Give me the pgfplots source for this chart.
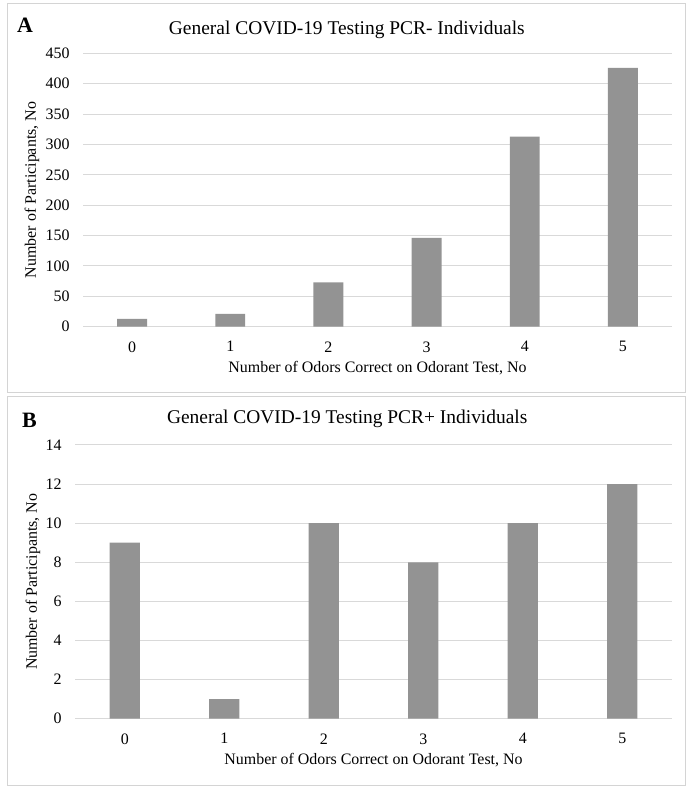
\documentclass[border=0pt]{standalone}
\usepackage{pgfplots}
\pgfplotsset{compat=1.18}
\usepackage{fontspec}
\setmainfont{Liberation Serif}
\definecolor{barc}{HTML}{939393}
\definecolor{gridc}{HTML}{D9D9D9}
\definecolor{boxc}{HTML}{D4D4D4}
\pgfplotsset{
  panel/.style={
    scale only axis,
    xmin=-0.5, xmax=5.5,
    ybar, bar width=0.305,
    xtick={0,1,2,3,4,5},
    axis line style={draw=none},
    tick style={draw=none},
    ymajorgrids,
    major grid style={gridc, line width=1bp},
    /pgf/number format/assume math mode=true,
    tick label style={font=\fontsize{16}{18}\selectfont},
    yticklabel style={xshift=-10bp},
    xticklabel style={yshift=-7bp},
    label style={font=\fontsize{16}{18}\selectfont},
    title style={font=\fontsize{19.5}{22}\selectfont},
    xlabel={Number of Odors Correct on Odorant Test, No},
    ylabel={Number of Participants, No},
    clip=false,
  }
}
\begin{document}
\begin{tikzpicture}
\draw[boxc, line width=1bp] (7bp,400.3bp) rectangle (685bp,789bp);
\draw[boxc, line width=1bp] (7bp,7bp) rectangle (685bp,396.3bp);
\begin{axis}[panel,
  at={(83bp,466.3bp)}, anchor=south west, width=589bp, height=273.4bp,
  ymin=0, ymax=450, ytick={0,50,...,450},
  title={General COVID-19 Testing PCR- Individuals},
  title style={at={(axis description cs:0.448,1.063)}, anchor=center},
  xlabel style={at={(axis description cs:0.5,-0.151)}, anchor=center},
  ylabel style={at={(axis description cs:-0.0866,0.5)}, anchor=center},
]
\addplot[fill=barc, draw=none] coordinates {(0,13) (1,21) (2,73) (3,146) (4,313) (5,426)};
\end{axis}
\begin{axis}[panel,
  at={(75bp,74.3bp)}, anchor=south west, width=597bp, height=273.7bp,
  ymin=0, ymax=14, ytick={0,2,...,14},
  title={General COVID-19 Testing PCR+ Individuals},
  title style={at={(axis description cs:0.456,1.073)}, anchor=center},
  xlabel style={at={(axis description cs:0.5,-0.151)}, anchor=center},
  ylabel style={at={(axis description cs:-0.0704,0.5)}, anchor=center},
]
\addplot[fill=barc, draw=none] coordinates {(0,9) (1,1) (2,10) (3,8) (4,10) (5,12)};
\end{axis}
\node[font=\fontsize{22}{24}\selectfont\bfseries] at (25bp,768bp) {A};
\node[font=\fontsize{22}{24}\selectfont\bfseries] at (29.5bp,373bp) {B};
\pgfresetboundingbox
\useasboundingbox (0,0) rectangle (692bp,793bp);
\end{tikzpicture}
\end{document}
